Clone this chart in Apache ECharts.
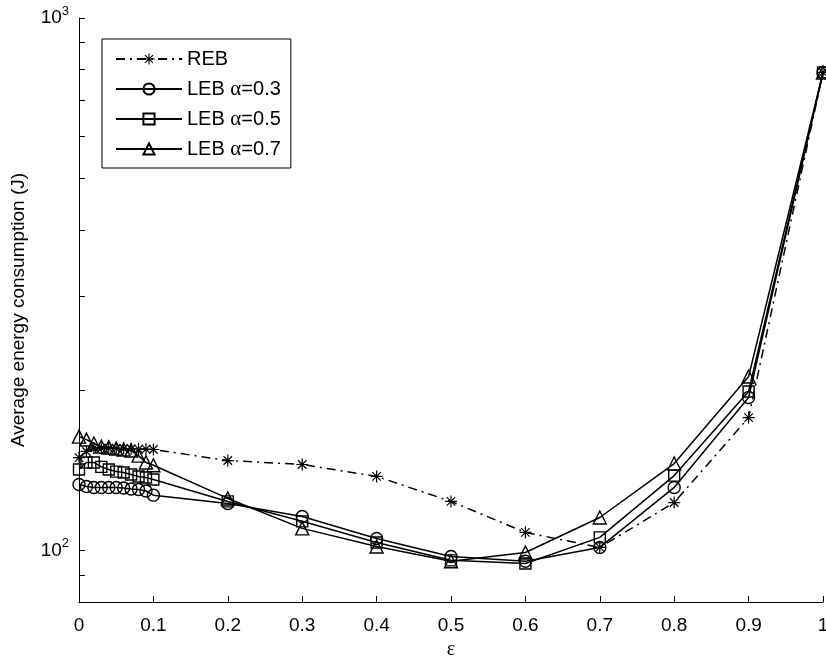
<!DOCTYPE html>
<html>
<head>
<meta charset="utf-8">
<script src="https://cdn.jsdelivr.net/npm/echarts@6/dist/echarts.min.js"></script>
<style>
  html, body { margin: 0; padding: 0; background: #fff; }
  #main { width: 826px; height: 658px; }
</style>
</head>
<body>
<div id="main"></div>
<script>
// epsilon values on the x axis
var epsilon = [0, 0.01, 0.02, 0.03, 0.04, 0.05, 0.06, 0.07, 0.08, 0.09, 0.1,
               0.2, 0.3, 0.4, 0.5, 0.6, 0.7, 0.8, 0.9, 1];

// average energy consumption (J)
var reb    = [149.4, 153.4, 155.8, 155.6, 155.6, 155.4, 155.4, 155.2, 155.0, 155.0, 154.7,
              147.5, 145.0, 137.7, 123.6, 108.1, 101.3, 123.0, 177.6, 790];
var leb03  = [133.0, 131.8, 131.3, 131.3, 131.3, 131.3, 131.0, 130.4, 130.1, 129.3, 127.0,
              122.5, 115.8, 105.3, 97.4, 95.4, 101.3, 131.3, 193.7, 790];
var leb05  = [141.9, 146.3, 146.3, 143.5, 141.9, 140.6, 140.1, 138.9, 137.7, 137.1, 135.9,
              123.6, 113.4, 103.5, 95.8, 94.5, 105.8, 138.2, 198.8, 790];
var leb07  = [163.6, 161.5, 158.8, 156.7, 156.1, 155.4, 154.7, 154.0, 150.7, 146.3, 144.5,
              125.2, 110.0, 101.7, 95.4, 99.1, 115.3, 145.6, 212.1, 790];

var seriesNames = ['REB', 'LEB α=0.3', 'LEB α=0.5', 'LEB α=0.7'];
var yTicks = [90, 100, 200, 300, 400, 500, 600, 700, 800, 900, 1000];
var yLabels = [100, 1000];

// matlab style '*' marker
var star = 'path://M-0.1,-1L0.1,-1L0.1,1L-0.1,1Z' +
           'M-1,-0.1L1,-0.1L1,0.1L-1,0.1Z' +
           'M-0.636,-0.778L0.778,0.636L0.636,0.778L-0.778,-0.636Z' +
           'M0.778,-0.636L-0.636,0.778L-0.778,0.636L0.636,-0.778Z';

function pairs(ys) {
    return epsilon.map(function (x, i) { return [x, ys[i]]; });
}

var font = 'Liberation Sans';

function mk(name, ys, symbol, size, dashed) {
    return {
        name: name,
        type: 'line',
        data: pairs(ys),
        symbol: symbol,
        symbolSize: size,
        showAllSymbol: true,
        lineStyle: { color: '#000', width: 1.5, type: dashed ? [9, 5, 2, 5] : 'solid' },
        itemStyle: symbol === star
            ? { color: '#000', borderWidth: 0 }
            : { color: 'rgba(0,0,0,0)', borderColor: '#000', borderWidth: 1.4 },
        emphasis: { disabled: true }
    };
}

var chart = echarts.init(document.getElementById('main'), null, { renderer: 'canvas' });
chart.setOption({
    animation: false,
    backgroundColor: '#fff',
    textStyle: { fontFamily: font, color: '#000' },
    grid: { left: 79, right: 3, top: 18, bottom: 56, outerBoundsMode: 'none', containLabel: false },
    legend: {
        data: seriesNames,
        orient: 'vertical',
        left: 102,
        top: 39,
        padding: [9, 10, 8, 13],
        itemWidth: 66,
        itemHeight: 14,
        itemGap: 8,
        borderColor: '#000',
        borderWidth: 1,
        backgroundColor: '#fff',
        formatter: function (n) { return n.replace('α', '{g|α}'); },
        textStyle: {
            fontFamily: font, fontSize: 20, color: '#000', lineHeight: 22,
            rich: { g: { fontFamily: 'Liberation Serif', fontSize: 21, color: '#000' } }
        }
    },
    xAxis: {
        type: 'value',
        min: 0,
        max: 1,
        interval: 0.1,
        name: 'ε',
        nameLocation: 'middle',
        nameGap: 34,
        nameTextStyle: { fontFamily: 'Liberation Serif', fontSize: 20, color: '#000' },
        axisLine: { lineStyle: { color: '#000', width: 1 } },
        axisTick: { inside: true, length: 6, lineStyle: { color: '#000' } },
        axisLabel: { fontSize: 19, color: '#000', margin: 14, showMaxLabel: true, showMinLabel: true },
        splitLine: { show: false }
    },
    yAxis: {
        type: 'log',
        logBase: 10,
        min: 80,
        max: 1000,
        name: 'Average energy consumption (J)',
        nameLocation: 'middle',
        nameGap: 51,
        nameTextStyle: { fontSize: 19, color: '#000' },
        axisLine: { show: true, lineStyle: { color: '#000', width: 1 } },
        axisTick: { show: true, inside: true, length: 6, customValues: yTicks, lineStyle: { color: '#000' } },
        axisLabel: {
            customValues: yLabels,
            margin: 10,
            color: '#000',
            fontSize: 19,
            formatter: function (v) {
                return '10{s|' + Math.round(Math.log10(v)) + '}';
            },
            rich: { s: { fontSize: 13, padding: [0, 0, 13, 0], color: '#000' } }
        },
        splitLine: { show: false }
    },
    series: [
        mk(seriesNames[0], reb, star, 12, true),
        mk(seriesNames[1], leb03, 'circle', 12, false),
        mk(seriesNames[2], leb05, 'rect', 11, false),
        mk(seriesNames[3], leb07, 'triangle', 13, false)
    ]
});
</script>
</body>
</html>
